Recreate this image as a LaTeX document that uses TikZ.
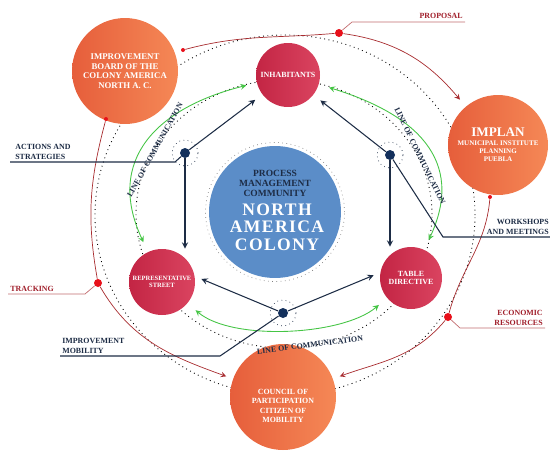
\documentclass[tikz,border=0pt]{standalone}
\usepackage{fontspec}
\setmainfont{Liberation Serif}
\newfontfamily\spacedfont[LetterSpace=8]{Liberation Serif}
\usetikzlibrary{calc}

\definecolor{orgL}{HTML}{E65E3B}
\definecolor{orgR}{HTML}{F58856}
\definecolor{redL}{HTML}{C32544}
\definecolor{redR}{HTML}{DA4460}
\definecolor{coreblue}{HTML}{5B8DC8}
\definecolor{navy}{HTML}{1D2C45}
\definecolor{hubnavy}{HTML}{13305C}
\definecolor{arcred}{HTML}{A82C30}
\definecolor{dotred}{HTML}{E8101A}
\definecolor{lblred}{HTML}{A01E2A}
\definecolor{comgreen}{HTML}{45C545}

\newcommand{\lblfont}{\fontsize{4.5}{5.6}\selectfont\bfseries}
\newcommand{\hub}[3]{\node[hubdot] (#1) at (#2,#3) {}; \node[hubring] at (#1) {};}

\begin{document}
\begin{tikzpicture}[x=0.02cm, y=0.02cm, >=stealth,
    bigcirc/.style={circle, left color=orgL, right color=orgR, minimum size=2.12cm,
        inner sep=0, text=white, align=center, font=\fontsize{5}{5.4}\selectfont\bfseries},
    midcirc/.style={circle, left color=redL, right color=redR, minimum size=1.28cm,
        inner sep=0, text=white, align=center, font=\fontsize{4.5}{4.8}\selectfont\bfseries},
    corecirc/.style={circle, fill=coreblue, minimum size=2.64cm, inner sep=0},
    corering/.style={circle, draw=gray, dotted, minimum size=2.78cm},
    hubdot/.style={circle, fill=hubnavy, minimum size=0.2cm, inner sep=0},
    hubring/.style={circle, draw=navy, dotted, minimum size=0.52cm},
    bigdot/.style={circle, fill=dotred, minimum size=0.16cm, inner sep=0},
    smalldot/.style={circle, fill=dotred, minimum size=0.08cm, inner sep=0},
    hubline/.style={navy, line width=0.6pt},
    hubarrow/.style={hubline, ->},
    redarc/.style={arcred, line width=0.4pt},
    redthin/.style={arcred!70, line width=0.4pt},
    comarc/.style={comgreen, line width=0.5pt, <->, shorten <=6pt, shorten >=6pt},
    navylbl/.style={text=navy, font=\lblfont, align=left, inner sep=0},
    redlbl/.style={text=lblred, font=\lblfont, align=left, inner sep=0},
    comlbl/.style={text=navy, font=\lblfont, inner sep=0}]

    \useasboundingbox (0,0) rectangle (550,451);

    % dotted guide rings
    \draw[dotted, line width=0.5pt] (285,236) ellipse [x radius=190, y radius=180];
    \draw[dotted, line width=0.5pt] (284,237) ellipse [x radius=148, y radius=134];

    % outer circles
    \node[bigcirc] (board) at (125,380) {IMPROVEMENT\\BOARD OF THE\\COLONY AMERICA\\NORTH A. C.};
    \node[bigcirc, minimum size=2cm, font=\fontsize{4}{4.6}\selectfont\bfseries] (implan) at (498,306)
        {{\fontsize{7.5}{8}\selectfont IMPLAN}\\[0.5pt]MUNICIPAL INSTITUTE\\PLANNING\\PUEBLA};
    \node[bigcirc] (council) at (283,54) {};
    \node[text=white, align=center, font=\fontsize{4.5}{5.3}\selectfont\bfseries] at (283,45)
        {COUNCIL OF\\PARTICIPATION\\CITIZEN OF\\MOBILITY};

    % middle circles
    \node[midcirc] (inhab) at (288,376) {INHABITANTS};
    \node[midcirc, minimum size=1.32cm, font=\fontsize{3.7}{4.2}\selectfont\bfseries] (street) at (162,169) {REPRESENTATIVE\\STREET};
    \node[midcirc, minimum size=1.24cm] (table) at (411,173) {TABLE\\DIRECTIVE};

    % core
    \node[corecirc] (core) at (275,239) {};
    \node[corering] at (core) {};
    \node[text=navy, align=center, font=\fontsize{5.4}{5.7}\selectfont\bfseries] at (275,268)
        {PROCESS\\MANAGEMENT\\COMMUNITY};
    \node[text=white, align=center, font=\fontsize{10}{10}\spacedfont\bfseries] at (277,224)
        {NORTH\\AMERICA\\COLONY};

    % hubs
    \hub{lhub}{185}{298}
    \hub{rhub}{390}{296}
    \hub{bhub}{283}{138}

    \draw[hubarrow, shorten >=5pt] (lhub) -- (inhab);
    \draw[hubarrow] (lhub) -- (lhub |- street.north);
    \draw[hubarrow, shorten >=5pt] (rhub) -- (inhab);
    \draw[hubarrow] (rhub) -- (rhub |- table.north);
    \draw[hubarrow, shorten >=4pt] (bhub) -- (street.10);
    \draw[hubarrow, shorten >=4pt] (bhub) -- (table.170);

    % lines of communication
    \draw[comarc] (inhab) to[out=194, in=115, looseness=1.3] (street);
    \draw[comarc] (inhab) to[out=-17, in=65, looseness=1.3] (table);
    \draw[comarc] (street) to[out=-40, in=220, looseness=0.75] (table);
    \node[comlbl, rotate=61] at (155,301) {LINE OF COMMUNICATION};
    \node[comlbl, rotate=-64] at (420,295) {LINE OF COMMUNICATION};
    \node[comlbl, rotate=7] at (310,106) {LINE OF COMMUNICATION};

    % red arcs
    \node[smalldot] (sboard) at (183,401) {};
    \node[bigdot] (prop) at (339,418) {};
    \draw[redarc, ->, shorten >=5pt] (sboard) to[out=15, in=185] (prop) to[out=-8, in=130] (implan);
    \node[smalldot] (simplan) at (490,254) {};
    \node[bigdot] (eco) at (448,134) {};
    \draw[redarc, ->, shorten >=4pt] (simplan) to[out=-95, in=75] (eco) to[out=-130, in=20] (council);
    \node[smalldot] (sboardb) at (106,332) {};
    \node[bigdot] (trk) at (98,168) {};
    \draw[redarc, ->, shorten >=4pt] (sboardb) to[out=-105, in=100] (trk) to[out=-60, in=160] (council);

    % labels
    \draw[redthin] (prop) -- (352,429) -- (465,429);
    \node[redlbl, anchor=south east] at (463,432) {PROPOSAL};
    \draw[redthin] (trk) -- (85,157) -- (8,157);
    \node[redlbl, anchor=south west] at (10,159) {TRACKING};
    \draw[redthin] (eco) -- (460,123) -- (545,123);
    \node[redlbl, anchor=south east, align=right] at (543,125) {ECONOMIC\\RESOURCES};
    \draw[hubline] (lhub) -- (175,289) -- (10,289);
    \node[navylbl, anchor=south west] at (15,291) {ACTIONS AND\\STRATEGIES};
    \draw[hubline] (rhub) -- (443,214) -- (550,214);
    \node[navylbl, anchor=south east, align=right] at (549,216) {WORKSHOPS\\AND MEETINGS};
    \draw[hubline] (bhub) -- (220,95) -- (60,95);
    \node[navylbl, anchor=south west] at (62,97) {IMPROVEMENT\\MOBILITY};
\end{tikzpicture}
\end{document}
